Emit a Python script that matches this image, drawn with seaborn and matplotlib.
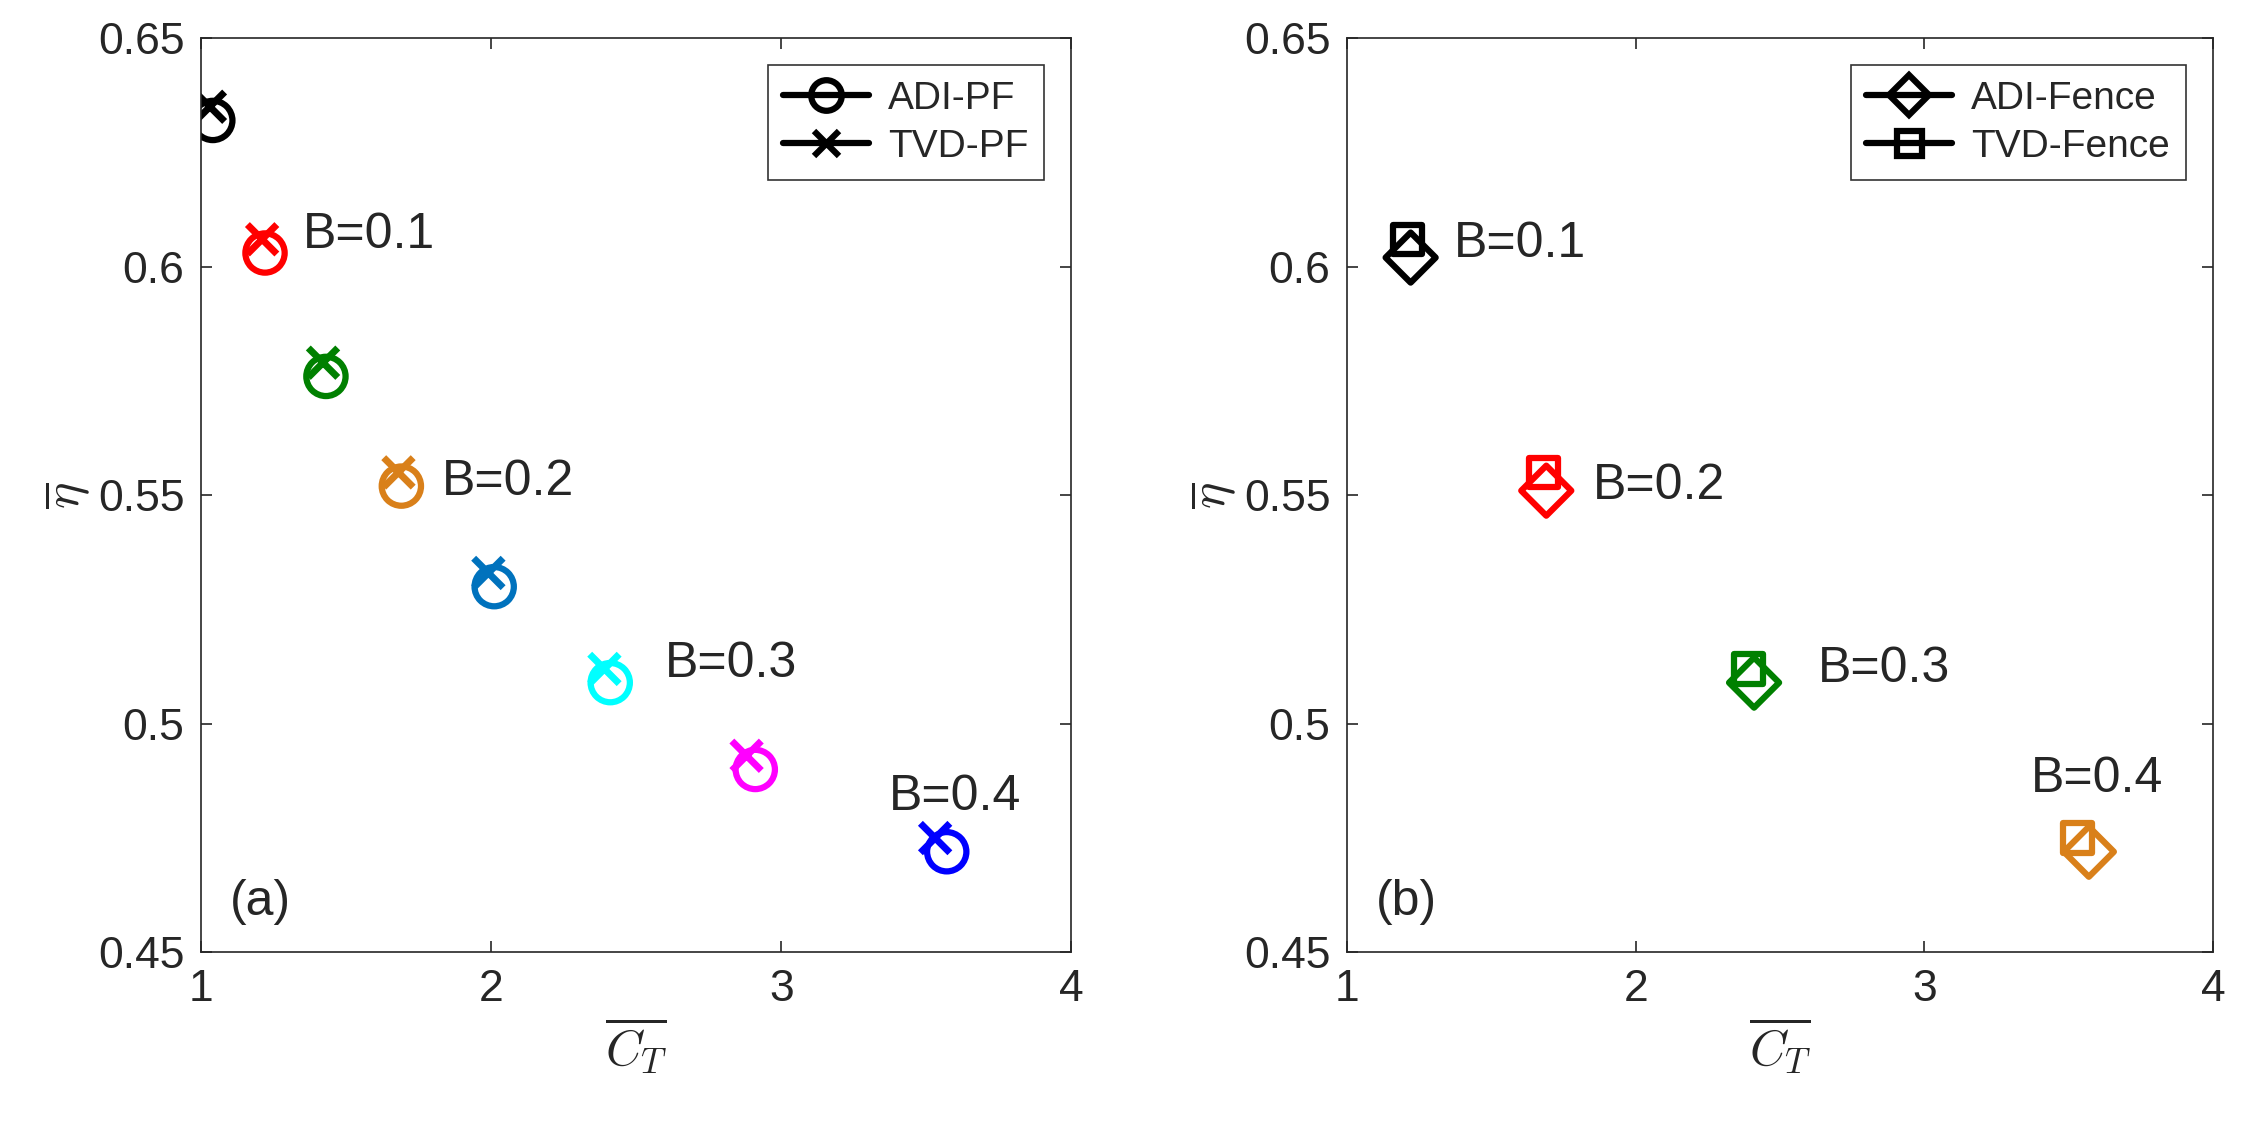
import matplotlib
matplotlib.use("Agg")
import matplotlib.pyplot as plt
from matplotlib.lines import Line2D
import seaborn as sns
import pandas as pd

sns.set_style("ticks")
plt.rcParams["font.family"] = ["Liberation Sans", "DejaVu Sans"]
plt.rcParams["mathtext.fontset"] = "cm"

# panel (a): porous fence
pf_colors = ["#000000", "#FF0000", "#008000", "#D9801A", "#0072BD", "#00FFFF", "#FF00FF", "#0000FF"]
adi_pf_ct = [1.04, 1.22, 1.43, 1.69, 2.01, 2.41, 2.91, 3.57]
adi_pf_eta = [0.632, 0.603, 0.576, 0.552, 0.530, 0.509, 0.490, 0.472]
tvd_pf_ct = [1.03, 1.21, 1.42, 1.68, 1.99, 2.39, 2.88, 3.53]
tvd_pf_eta = [0.635, 0.606, 0.579, 0.555, 0.533, 0.512, 0.493, 0.475]
b_labels = ["B=0.1", "B=0.2", "B=0.3", "B=0.4"]
pf_label_pos = [(1.35, 0.607), (1.83, 0.553), (2.6, 0.513), (3.37, 0.484)]

# panel (b): fence
f_colors = ["#000000", "#FF0000", "#008000", "#D9801A"]
adi_f_ct = [1.22, 1.69, 2.41, 3.57]
adi_f_eta = [0.602, 0.551, 0.509, 0.472]
tvd_f_ct = [1.21, 1.68, 2.39, 3.53]
tvd_f_eta = [0.606, 0.555, 0.512, 0.475]
f_label_pos = [(1.37, 0.605), (1.85, 0.552), (2.63, 0.512), (3.37, 0.488)]

fig = plt.figure(figsize=(22.43, 11.23), dpi=100)
ax_a = fig.add_axes([0.0897, 0.152, 0.388, 0.814])
ax_b = fig.add_axes([0.6006, 0.152, 0.386, 0.814])


def style(ax, label, labels, pos):
    ax.set_xlim(1, 4)
    ax.set_ylim(0.45, 0.65)
    ax.set_xticks([1, 2, 3, 4])
    ax.set_yticks([0.45, 0.5, 0.55, 0.6, 0.65])
    ax.set_yticklabels(["0.45", "0.5", "0.55", "0.6", "0.65"])
    ax.tick_params(direction="in", top=True, right=True, labelsize=32, length=8, width=1.2, pad=12)
    for s in ax.spines.values():
        s.set_linewidth(1.2)
    ax.set_xlabel(r"$\overline{C_T}$", fontsize=36)
    ax.set_ylabel(r"$\overline{\eta}$", fontsize=36)
    for t, (x, y) in zip(labels, pos):
        ax.text(x, y, t, fontsize=36, va="center")
    ax.text(1.1, 0.461, label, fontsize=36, va="center")


for ax, data, colors in [
    (ax_a, (adi_pf_ct, adi_pf_eta, "o", tvd_pf_ct, tvd_pf_eta, "x"), pf_colors),
    (ax_b, (adi_f_ct, adi_f_eta, "D", tvd_f_ct, tvd_f_eta, "s"), f_colors),
]:
    ct1, eta1, m1, ct2, eta2, m2 = data
    for cts, etas, m, s in [(ct1, eta1, m1, 800), (ct2, eta2, m2, 450)]:
        df = pd.DataFrame({"ct": cts, "eta": etas, "k": [str(i) for i in range(len(cts))]})
        pal = dict(zip(df["k"], colors))
        if m == "x":
            sns.scatterplot(data=df, x="ct", y="eta", hue="k", palette=pal, marker="x",
                            s=s, linewidth=5, legend=False, ax=ax)
        else:
            sns.scatterplot(data=df, x="ct", y="eta", hue="k", palette=pal, marker=m,
                            s=s if m != "D" else 650, legend=False, ax=ax)
            coll = ax.collections[-1]
            coll.set_edgecolors(coll.get_facecolors())
            coll.set_facecolors("none")
            coll.set_linewidth(4.5)

style(ax_a, "(a)", b_labels, pf_label_pos)
style(ax_b, "(b)", b_labels, f_label_pos)


def handle(m, ms):
    return Line2D([0], [0], color="k", lw=4.5, marker=m, markersize=ms, mfc="none", mew=4.5)


leg_a = ax_a.legend([handle("o", 22), handle("x", 18)], ["ADI-PF", "TVD-PF"], loc="upper right",
                    fontsize=28, frameon=True, fancybox=False, edgecolor="k", handlelength=2.2,
                    borderaxespad=0.7, handletextpad=0.5, labelspacing=0.3)
leg_b = ax_b.legend([handle("D", 20), handle("s", 18)], ["ADI-Fence", "TVD-Fence"], loc="upper right",
                    fontsize=28, frameon=True, fancybox=False, edgecolor="k", handlelength=2.2,
                    borderaxespad=0.7, handletextpad=0.5, labelspacing=0.3)
for leg in (leg_a, leg_b):
    leg.get_frame().set_linewidth(1.2)

fig.savefig("out.png", dpi=100, facecolor="white")
